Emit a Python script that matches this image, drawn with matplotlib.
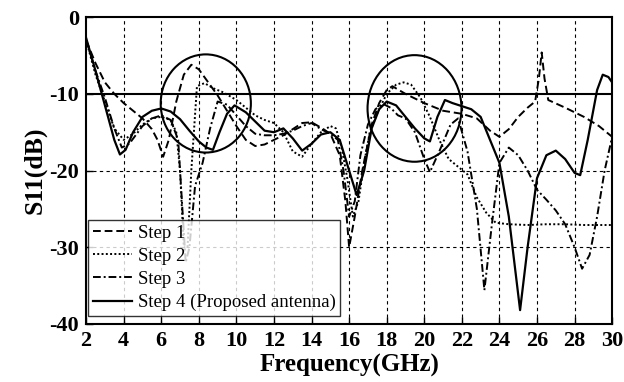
import matplotlib.pyplot as plt
import numpy as np
from matplotlib.patches import Ellipse

# Step 1 (dashed)
f1 = [2, 2.5, 3, 3.5, 4, 4.5, 5, 5.5, 5.8, 6.1, 6.4, 6.8, 7.2, 7.6, 8.0, 8.5, 9.0, 9.5, 10.0, 10.5,
      11.0, 11.5, 12.0, 12.5, 13.0, 13.5, 14.0, 14.5, 15.0, 15.5, 15.8, 16.0, 16.3, 16.7, 17.2, 17.6, 18.0, 18.3,
      19.0, 20.0, 21.0, 22.0, 22.8, 23.5, 24.0, 24.5, 25.0, 25.5, 25.9, 26.1, 26.25, 26.4, 26.6, 27.5, 28.5, 29.3, 30.0]
s1 = [-3, -6, -8.5, -10, -11.2, -12.2, -13.2, -14.6, -16, -18.2, -16, -11, -7.5, -6.2, -6.8, -8.5, -10.2, -12.2, -14.2, -16,
      -16.8, -16.6, -16, -15.4, -14.6, -13.8, -13.7, -14.4, -15.2, -18, -24, -30, -26, -20, -14, -11.2, -9.5, -9,
      -10, -11.2, -12.2, -12.6, -13.2, -14.8, -15.6, -14.6, -13, -11.8, -11, -8, -4.6, -8, -10.8, -11.8, -13, -14.2, -15.6]

# Step 2 (dotted)
f2 = [2, 2.5, 3, 3.5, 4, 4.5, 5, 5.5, 6, 6.5, 6.8, 7.0, 7.2, 7.4, 7.6, 7.9, 8.3, 8.8, 9.3, 10.0, 10.5, 11.0, 11.5,
      12.0, 12.5, 13.0, 13.5, 14.0, 14.5, 15.0, 15.3, 15.6, 15.9, 16.2, 16.5, 16.8, 17.1, 17.5, 18.0, 18.5, 18.9,
      19.3, 19.8, 20.3, 20.8, 21.3, 21.8, 22.3, 22.8, 23.3, 23.8, 24.5, 25.5, 26.5, 27.5, 28.5, 29.5, 30.0]
s2 = [-3, -7.5, -11, -14.5, -16, -15.2, -14, -13.2, -13, -13.4, -15, -20, -30, -30, -20, -9, -8.6, -9.3, -9.8, -10.8, -11.8, -12.8, -13.4,
      -13.8, -15, -17.5, -18.2, -16.5, -15, -14.2, -14.5, -17, -21, -26, -24, -19, -15, -12.5, -10, -8.8, -8.5,
      -8.8, -10.5, -13, -16, -18.5, -19.5, -20.5, -23.5, -25.5, -26.8, -27, -27.1, -27, -27, -27.1, -27.1, -27.1]

# Step 3 (dash-dot)
f3 = [2, 2.5, 3, 3.5, 3.9, 4.3, 5, 5.5, 6, 6.5, 6.9, 7.1, 7.3, 7.5, 7.8, 8.2, 8.6, 9.0, 9.5, 10.0, 10.5, 11.0, 11.5,
      12.0, 12.5, 13.0, 13.5, 14.0, 14.5, 15.0, 15.4, 15.7, 16.0, 16.3, 16.6, 17.0, 17.4, 17.8, 18.2, 18.6, 19.0,
      19.5, 20.0, 20.3, 20.8, 21.4, 21.8, 22.3, 22.8, 23.2, 23.6, 24.0, 24.5, 25.0, 25.5, 26.0, 26.5, 27.0, 27.5,
      28.0, 28.4, 28.8, 29.2, 29.6, 30.0]
s3 = [-3, -7, -10.5, -14.5, -17, -16.5, -14.2, -13.2, -12.8, -13.4, -16, -24, -32, -30, -22, -19, -14.5, -11, -11.4, -12.8, -14.2, -15.2, -15.4,
      -15.4, -15.2, -14.8, -14.2, -13.8, -14.6, -15.2, -16, -20, -26, -24, -18, -14, -12, -11.3, -11.8, -12.8, -13.2,
      -15, -18.5, -20.2, -17.5, -14, -13.2, -17.5, -25, -35.6, -27, -19, -17, -18, -20, -22.5, -23.8, -25.2, -27,
      -30, -32.8, -31, -26, -20, -15.6]

# Step 4 (proposed antenna, solid)
f4 = [2, 2.5, 3, 3.5, 3.8, 4.1, 4.5, 5, 5.5, 6, 6.5, 7, 7.5, 8, 8.4, 8.75, 9.1, 9.5, 9.9, 10.5, 11.0, 11.5,
      12.0, 12.5, 13.0, 13.5, 14.0, 14.5, 15.0, 15.5, 16.0, 16.4, 16.8, 17.2, 17.6, 18.0, 18.5, 19.0, 19.5, 20.0,
      20.3, 20.7, 21.1, 21.5, 22.0, 22.5, 23.0, 23.5, 24.0, 24.5, 25.1, 25.5, 26.0, 26.5, 27.0, 27.5, 28.0, 28.3,
      28.7, 29.2, 29.5, 29.8, 30.0]
s4 = [-2.7, -7, -11.5, -16, -17.9, -17.3, -15, -13, -12.2, -11.9, -12.3, -13.3, -14.8, -16.2, -17, -17.3, -15, -12.6, -11.5, -12.4, -13.6, -14.8,
      -15, -14.5, -15.8, -17.4, -16.5, -15.3, -15, -16, -20, -23.2, -20, -14.5, -12, -11, -11.5, -13, -14.5, -15.8,
      -16.2, -13, -10.8, -11.2, -11.6, -12, -13, -16, -19, -26, -38.2, -30, -21, -18, -17.4, -18.5, -20.3, -20.6,
      -16, -9.5, -7.5, -7.8, -8.5]

xticks = np.arange(2, 31, 2)
yticks = [0, -10, -20, -30, -40]

plt.rcParams['font.family'] = ['Liberation Serif', 'DejaVu Serif']
plt.rcParams['axes.unicode_minus'] = False

fig = plt.figure(figsize=(6.24, 3.82), dpi=100)
ax = fig.add_axes([0.138, 0.152, 0.843, 0.803])

for x in xticks[1:-1]:
    ax.axvline(x, color='black', lw=0.8, ls=(0, (3, 3)), zorder=1)
for y in [-20, -30]:
    ax.axhline(y, color='black', lw=0.8, ls=(0, (3, 3)), zorder=1)
ax.axhline(-10, color='black', lw=1.5, zorder=2)

ax.plot(f1, s1, color='black', lw=1.4, ls=(0, (4, 2)), label='Step 1', zorder=3)
ax.plot(f2, s2, color='black', lw=1.4, ls=(0, (1, 1.2)), label='Step 2', zorder=3)
ax.plot(f3, s3, color='black', lw=1.4, ls=(0, (4, 1.5, 1, 1.5)), label='Step 3', zorder=3)
ax.plot(f4, s4, color='black', lw=1.6, ls='-', label='Step 4 (Proposed antenna)', zorder=4)

ax.add_patch(Ellipse((8.37, -11.25), 4.8, 12.8, fill=False, color='black', lw=1.5, zorder=5))
ax.add_patch(Ellipse((19.48, -11.9), 5.0, 13.9, fill=False, color='black', lw=1.5, zorder=5))

ax.set_xlim(2, 30)
ax.set_ylim(-40, 0)
ax.set_xticks(xticks)
ax.set_yticks(yticks)
ax.tick_params(direction='in', length=5, width=1, labelsize=16, pad=5)
for lab in ax.get_xticklabels() + ax.get_yticklabels():
    lab.set_fontweight('bold')
for sp in ax.spines.values():
    sp.set_linewidth(1.5)

ax.set_xlabel('Frequency(GHz)', fontsize=18, fontweight='bold', labelpad=2)
ax.set_ylabel('S11(dB)', fontsize=18.5, fontweight='bold', labelpad=2)

leg = ax.legend(loc='lower left', fontsize=13.5, frameon=True, fancybox=False, edgecolor='black',
                handlelength=2.1, handletextpad=0.3, borderaxespad=0.1, labelspacing=0.32,
                borderpad=0.25, bbox_to_anchor=(0.0, 0.02))
leg.get_frame().set_linewidth(1.0)
leg.set_zorder(6)

fig.savefig('out.png', dpi=100)
